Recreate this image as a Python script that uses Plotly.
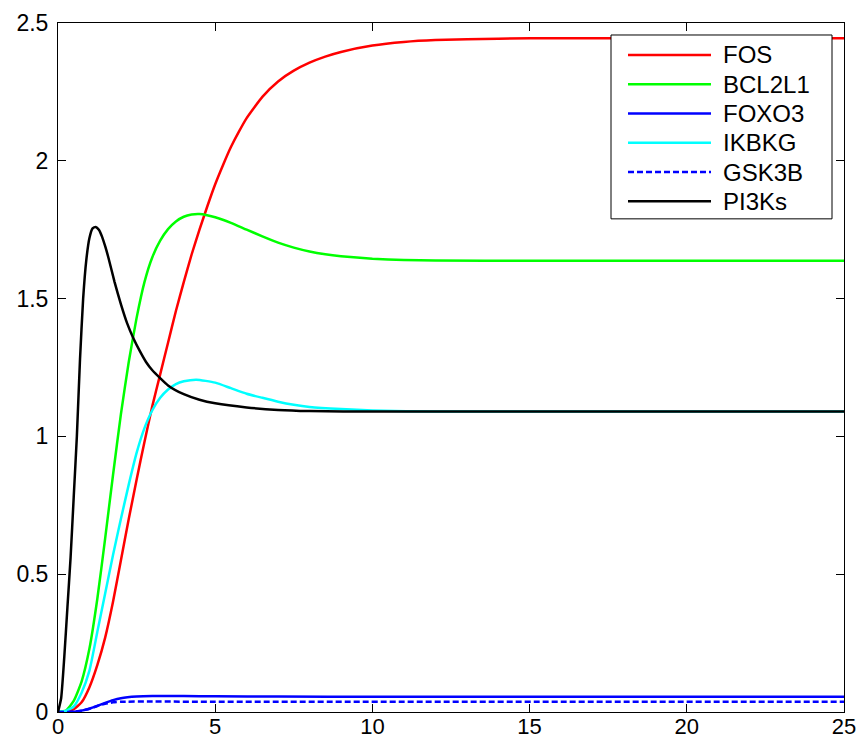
import plotly.graph_objects as go

# time points and series values
fos_t = [0, 0.25, 0.5, 0.75, 1.0, 1.25, 1.5, 1.75, 2.0, 2.25, 2.5, 2.75, 3.0, 3.25, 3.5, 3.75, 4.0, 4.25, 4.5, 4.75, 5.0, 5.25, 5.5, 5.75, 6.0, 6.5, 7, 7.5, 8, 8.5, 9, 10, 11, 12, 14, 16, 25]
fos_y = [0, 0.001, 0.01, 0.035, 0.09, 0.17, 0.27, 0.40, 0.55, 0.70, 0.843, 0.98, 1.11, 1.225, 1.34, 1.455, 1.56, 1.66, 1.75, 1.835, 1.915, 1.985, 2.05, 2.105, 2.155, 2.232, 2.288, 2.327, 2.356, 2.378, 2.395, 2.418, 2.431, 2.438, 2.443, 2.445, 2.445]

bcl_t = [0, 0.25, 0.5, 0.75, 1.0, 1.25, 1.5, 1.75, 2.0, 2.25, 2.5, 2.75, 3.0, 3.25, 3.5, 3.75, 4.0, 4.25, 4.5, 5.0, 5.5, 6.0, 6.5, 7.0, 7.5, 8.0, 8.5, 9, 10, 11, 12, 15, 25]
bcl_y = [0, 0.005, 0.04, 0.11, 0.23, 0.41, 0.63, 0.86, 1.08, 1.27, 1.43, 1.56, 1.65, 1.71, 1.752, 1.78, 1.797, 1.805, 1.807, 1.795, 1.775, 1.75, 1.726, 1.703, 1.685, 1.671, 1.661, 1.654, 1.645, 1.640, 1.638, 1.637, 1.637]

foxo_t = [0, 0.5, 0.75, 1.0, 1.25, 1.5, 1.75, 2.0, 2.5, 3, 4, 5, 7, 10, 25]
foxo_y = [0, 0.001, 0.005, 0.012, 0.022, 0.033, 0.043, 0.050, 0.056, 0.058, 0.058, 0.057, 0.056, 0.055, 0.055]

ikbkg_t = [0, 0.25, 0.5, 0.75, 1.0, 1.25, 1.5, 1.75, 2.0, 2.25, 2.5, 2.75, 3.0, 3.25, 3.5, 3.75, 4.0, 4.4, 5.0, 5.5, 6.0, 6.5, 7, 7.5, 8, 9, 10, 12, 25]
ikbkg_y = [0, 0.004, 0.02, 0.07, 0.15, 0.29, 0.43, 0.57, 0.70, 0.825, 0.94, 1.03, 1.095, 1.14, 1.17, 1.19, 1.20, 1.206, 1.195, 1.175, 1.155, 1.14, 1.126, 1.115, 1.107, 1.099, 1.094, 1.09, 1.09]

gsk_t = [0, 0.5, 0.75, 1.0, 1.25, 1.5, 1.75, 2.0, 3, 5, 25]
gsk_y = [0, 0.001, 0.005, 0.012, 0.022, 0.030, 0.035, 0.037, 0.038, 0.037, 0.037]

pi3k_t = [0, 0.1, 0.2, 0.3, 0.4, 0.5, 0.6, 0.7, 0.8, 0.9, 1.0, 1.1, 1.2, 1.3, 1.4, 1.5, 1.6, 1.8, 2.0, 2.2, 2.4, 2.6, 2.8, 3.0, 3.5, 4.0, 4.5, 5, 6, 7, 8, 10, 25]
pi3k_y = [0, 0.05, 0.2, 0.38, 0.56, 0.78, 1.0, 1.28, 1.50, 1.64, 1.72, 1.755, 1.76, 1.75, 1.725, 1.69, 1.65, 1.56, 1.48, 1.41, 1.355, 1.31, 1.27, 1.24, 1.185, 1.153, 1.133, 1.12, 1.105, 1.096, 1.092, 1.09, 1.09]

x_ticks = [0, 5, 10, 15, 20, 25]
y_ticks = [0, 0.5, 1, 1.5, 2, 2.5]
y_tick_text = ["0", "0.5", "1", "1.5", "2", "2.5"]

series = [
    ("FOS", fos_t, fos_y, "#ff0000", "solid"),
    ("BCL2L1", bcl_t, bcl_y, "#00ff00", "solid"),
    ("FOXO3", foxo_t, foxo_y, "#0000ff", "solid"),
    ("IKBKG", ikbkg_t, ikbkg_y, "#00ffff", "solid"),
    ("GSK3B", gsk_t, gsk_y, "#0000ff", "6px,3px"),
    ("PI3Ks", pi3k_t, pi3k_y, "#000000", "solid"),
]

LW = 2.5
font_family = "Liberation Sans, Arial, sans-serif"

fig = go.Figure()
for name, t, y, color, dash in series:
    fig.add_trace(go.Scatter(
        x=t, y=y, name=name, mode="lines", showlegend=False,
        line=dict(color=color, width=LW, dash=dash, shape="spline", smoothing=0.5),
    ))

# legend box drawn in paper coordinates (plot area: 58..844 px wide, 23..712.5 px tall)
PX0, PW, PY_BOTTOM, PH = 58.0, 786.0, 712.5, 689.5
def px_x(p):
    return (p - PX0) / PW
def px_y(p):
    return (PY_BOTTOM - p) / PH

shapes = [dict(type="rect", xref="paper", yref="paper",
               x0=px_x(611), x1=px_x(832), y0=px_y(219), y1=px_y(35),
               line=dict(color="#000000", width=1), fillcolor="#ffffff", layer="above")]
annotations = []
for i, (name, t, y, color, dash) in enumerate(series):
    row = 55 + 29.3 * i
    shapes.append(dict(type="line", xref="paper", yref="paper",
                       x0=px_x(628), x1=px_x(711), y0=px_y(row), y1=px_y(row),
                       line=dict(color=color, width=LW, dash=dash), layer="above"))
    annotations.append(dict(xref="paper", yref="paper", x=px_x(721), y=px_y(row),
                            text=name, showarrow=False, xanchor="left", yanchor="middle",
                            font=dict(family=font_family, size=24, color="#000000")))

axis_common = dict(
    showgrid=False, zeroline=False, showline=True, linecolor="#000000", linewidth=1,
    mirror="ticks", ticks="inside", ticklen=8, tickcolor="#000000", tickwidth=1,
    automargin=False,
)
fig.update_layout(
    width=862, height=742,
    margin=dict(l=58, r=18, t=23, b=29.5),
    paper_bgcolor="#ffffff", plot_bgcolor="#ffffff",
    xaxis=dict(range=[0, 25], tickvals=x_ticks, ticklabelstandoff=-5,
               tickfont=dict(family=font_family, size=22, color="#000000"), **axis_common),
    yaxis=dict(range=[0, 2.5], tickvals=y_ticks, ticktext=y_tick_text, ticklabelstandoff=4,
               tickfont=dict(family=font_family, size=23, color="#000000"), **axis_common),
    shapes=shapes, annotations=annotations,
    showlegend=False,
)
fig.write_html("out.html")
